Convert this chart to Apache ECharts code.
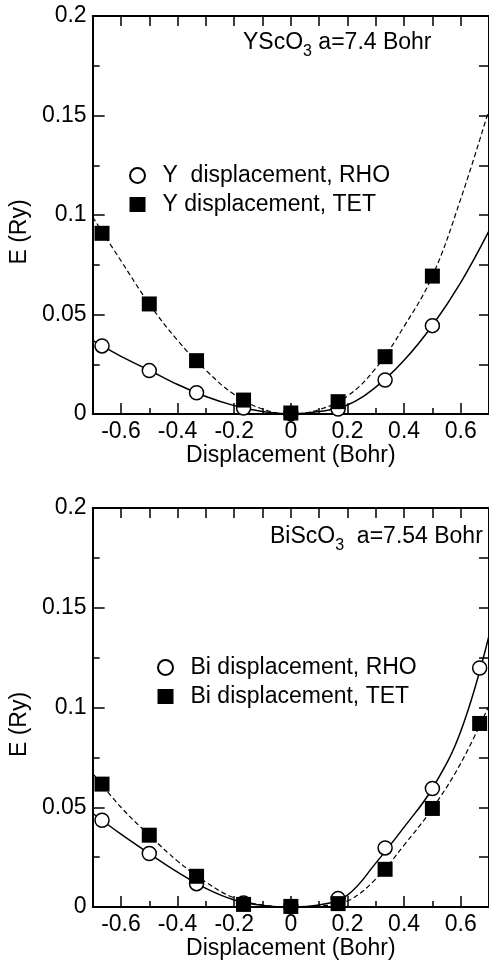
<!DOCTYPE html>
<html>
<head>
<meta charset="utf-8">
<script src="https://cdn.jsdelivr.net/npm/echarts@6/dist/echarts.min.js"></script>
<style>
html,body{margin:0;padding:0;background:#fff;}
#chart{width:489px;height:962px;}
</style>
</head>
<body>
<div id="chart"></div>
<script>
// ---- data ----
const xTickLabels = [-0.6, -0.4, -0.2, 0, 0.2, 0.4, 0.6];
const xMinorTicks = [-0.5, -0.3, -0.1, 0.1, 0.3, 0.5];
const xTopTicks = [-0.6, -0.5, -0.4, -0.3, -0.2, -0.1, 0, 0.1, 0.2, 0.3, 0.4, 0.5, 0.6];

// YScO3 panel
const ysDisp = [-0.667, -0.5, -0.333, -0.167, 0, 0.167, 0.333, 0.5];
const ysRho  = [0.0342, 0.0218, 0.0107, 0.0030, 0.0002, 0.0025, 0.0171, 0.0444];
const ysTet  = [0.0908, 0.0553, 0.0268, 0.0070, 0.0005, 0.0062, 0.0288, 0.0693];
const fitX     = [-0.7, -0.6, -0.5, -0.4, -0.3, -0.2, -0.1, 0, 0.1, 0.2, 0.3, 0.4, 0.5, 0.6, 0.7];
const ysRhoFit = [0.037, 0.029, 0.022, 0.0148, 0.0088, 0.0042, 0.0012, 0, 0.0012, 0.0045, 0.0135, 0.027, 0.0445, 0.066, 0.092];
const ysTetFit = [0.099, 0.077, 0.0553, 0.037, 0.022, 0.0098, 0.0025, 0, 0.0022, 0.009, 0.023, 0.044, 0.0693, 0.108, 0.153];

// BiScO3 panel
const biDisp = [-0.667, -0.5, -0.333, -0.167, 0, 0.167, 0.333, 0.5, 0.667];
const biRho  = [0.0435, 0.0268, 0.0117, 0.0020, 0.0002, 0.0042, 0.0296, 0.0594, 0.1198];
const biTet  = [0.0616, 0.0360, 0.0154, 0.0013, 0.0003, 0.0017, 0.0189, 0.0494, 0.0920];
const biRhoFit = [0.047, 0.0365, 0.0268, 0.0175, 0.0093, 0.0035, 0.0008, 0, 0.001, 0.006, 0.022, 0.040, 0.0594, 0.088, 0.136];
const biTetFit = [0.067, 0.050, 0.036, 0.023, 0.0125, 0.0045, 0.001, 0, 0.0005, 0.003, 0.014, 0.031, 0.0494, 0.072, 0.101];

const yMin = 0, yMax = 0.2, yInterval = 0.05;

// ---- chart ----
const FONT = 'Liberation Sans, Arial, Helvetica, sans-serif';
const FS = 23;
const zip = (xs, ys) => xs.map((x, i) => [x, ys[i]]);

function panelAxes(gridIndex, nameText) {
  const xs = [
    { gridIndex, type: 'value', position: 'bottom', min: -0.7, max: 0.7,
      axisLine: { show: true, onZero: false, lineStyle: { color: '#000', width: 2 } },
      axisTick: { show: true, inside: true, length: 11, lineStyle: { color: '#000', width: 1.5 }, customValues: xTickLabels },
      axisLabel: { show: true, customValues: xTickLabels, color: '#000', fontSize: FS, fontFamily: FONT, margin: 6 },
      splitLine: { show: false },
      name: 'Displacement (Bohr)', nameLocation: 'middle', nameGap: 25,
      nameTextStyle: { color: '#000', fontSize: FS, fontFamily: FONT } },
    { gridIndex, type: 'value', position: 'bottom', min: -0.7, max: 0.7,
      axisLine: { show: false, onZero: false },
      axisTick: { show: true, inside: true, length: 6, lineStyle: { color: '#000', width: 1.5 }, customValues: xMinorTicks },
      axisLabel: { show: false }, splitLine: { show: false } },
    { gridIndex, type: 'value', position: 'top', min: -0.7, max: 0.7,
      axisLine: { show: true, onZero: false, lineStyle: { color: '#000', width: 2 } },
      axisTick: { show: true, inside: true, length: 10, lineStyle: { color: '#000', width: 1.5 }, customValues: xTopTicks },
      axisLabel: { show: false }, splitLine: { show: false } }
  ];
  const ys = [
    { gridIndex, type: 'value', position: 'left', min: yMin, max: yMax, interval: yInterval,
      axisLine: { show: true, onZero: false, lineStyle: { color: '#000', width: 2 } },
      axisTick: { show: true, inside: true, length: 12, lineStyle: { color: '#000', width: 1.5 } },
      minorTick: { show: true, splitNumber: 2, length: 7, lineStyle: { color: '#000', width: 1.5 } },
      axisLabel: { show: true, color: '#000', fontSize: FS, fontFamily: FONT, margin: 6 },
      splitLine: { show: false },
      name: nameText, nameLocation: 'middle', nameGap: 60,
      nameTextStyle: { color: '#000', fontSize: FS, fontFamily: FONT, padding: [0, 34, 0, 0] } },
    { gridIndex, type: 'value', position: 'right', min: yMin, max: yMax, interval: yInterval,
      axisLine: { show: true, onZero: false, lineStyle: { color: '#000', width: 2 } },
      axisTick: { show: true, inside: true, length: 10, lineStyle: { color: '#000', width: 1.5 } },
      minorTick: { show: true, splitNumber: 2, length: 10, lineStyle: { color: '#000', width: 1.5 } },
      axisLabel: { show: false }, splitLine: { show: false } }
  ];
  return { xs, ys };
}

const p0 = panelAxes(0, 'E (Ry)');
const p1 = panelAxes(1, 'E (Ry)');

function panelSeries(xi, yi, disp, rho, tet, rhoFit, tetFit, rhoName, tetName) {
  return [
    { type: 'line', xAxisIndex: xi, yAxisIndex: yi, data: zip(fitX, rhoFit), smooth: 0.4,
      showSymbol: false, symbol: 'none', silent: true, lineStyle: { color: '#000', width: 1.5 }, z: 2 },
    { type: 'line', xAxisIndex: xi, yAxisIndex: yi, data: zip(fitX, tetFit), smooth: 0.4,
      showSymbol: false, symbol: 'none', silent: true, lineStyle: { color: '#000', width: 1.2, type: [5, 3] }, z: 2 },
    { name: rhoName, type: 'scatter', xAxisIndex: xi, yAxisIndex: yi, data: zip(disp, rho), symbol: 'circle', symbolSize: 14,
      itemStyle: { color: '#fff', borderColor: '#000', borderWidth: 1.5, opacity: 1 }, z: 3 },
    { name: tetName, type: 'scatter', xAxisIndex: xi, yAxisIndex: yi, data: zip(disp, tet), symbol: 'rect', symbolSize: 15,
      itemStyle: { color: '#000', opacity: 1 }, z: 4 }
  ];
}

const legendBase = {
  orient: 'vertical', itemWidth: 16, itemHeight: 15, itemGap: 6, selectedMode: false, padding: 0,
  textStyle: { color: '#000', fontSize: FS, fontFamily: FONT, padding: [0, 0, 0, 12] }
};

const titleRich = {
  a: { fontSize: FS, fontFamily: FONT, fontWeight: 'normal', color: '#000', verticalAlign: 'top', lineHeight: 23 },
  s: { fontSize: 16, fontFamily: FONT, fontWeight: 'normal', color: '#000', verticalAlign: 'top', lineHeight: 16, padding: [13, 0, 0, 0] }
};

const option = {
  backgroundColor: '#fff',
  animation: false,
  title: [
    { text: '{a|YScO}{s|3}{a| a=7.4 Bohr}', left: 243, top: 31, padding: 0, textStyle: { fontWeight: 'normal', rich: titleRich } },
    { text: '{a|BiScO}{s|3}{a|  a=7.54 Bohr}', left: 270, top: 525, padding: 0, textStyle: { fontWeight: 'normal', rich: titleRich } }
  ],
  legend: [
    Object.assign({}, legendBase, { left: 129, top: 164, data: ['Y  displacement, RHO', 'Y displacement, TET'] }),
    Object.assign({}, legendBase, { left: 157, top: 656, data: ['Bi displacement, RHO', 'Bi displacement, TET'] })
  ],
  grid: [
    { left: 92, top: 16, width: 399, height: 398, containLabel: false },
    { left: 92, top: 508, width: 399, height: 399, containLabel: false }
  ],
  xAxis: p0.xs.concat(p1.xs),
  yAxis: p0.ys.concat(p1.ys),
  series: [].concat(
    panelSeries(0, 0, ysDisp, ysRho, ysTet, ysRhoFit, ysTetFit, 'Y  displacement, RHO', 'Y displacement, TET'),
    panelSeries(3, 2, biDisp, biRho, biTet, biRhoFit, biTetFit, 'Bi displacement, RHO', 'Bi displacement, TET')
  )
};

const chart = echarts.init(document.getElementById('chart'), null, { renderer: 'canvas' });
chart.setOption(option);
</script>
</body>
</html>
